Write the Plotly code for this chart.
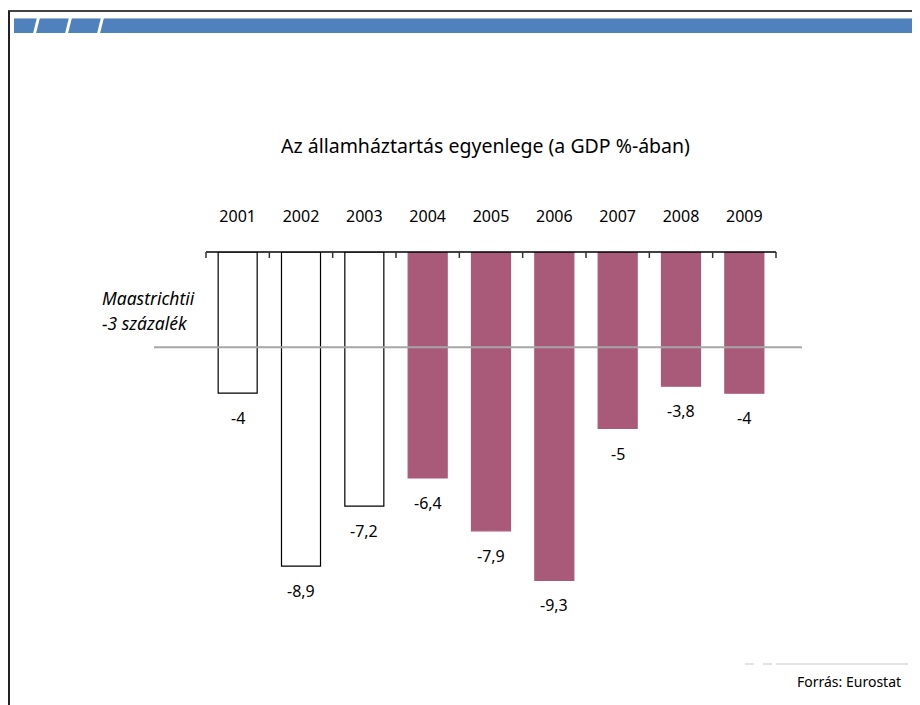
import plotly.graph_objects as go

# Adatok
years = ['2001', '2002', '2003', '2004', '2005', '2006', '2007', '2008', '2009']
balance = [-4, -8.9, -7.2, -6.4, -7.9, -9.3, -5, -3.8, -4]
hollow_years = ['2001', '2002', '2003']
maastricht_level = -2.7

title_text = 'Az államháztartás egyenlege (a GDP %-ában)'
source_text = 'Forrás: Eurostat'
maastricht_lines = ['Maastrichtii', '-3 százalék']

FONT = 'Noto Sans'
PINK = '#A85A78'

# Elrendezés (a böngésző 8 px-es body margóját levonva)
OFF = 8
W, H = 920 - OFF, 705 - OFF
PLOT_X0, PLOT_X1, PLOT_Y0, PLOT_Y1 = 206, 776, 252, 620  # oldalpixelek
L, R = PLOT_X0 - OFF, W - (PLOT_X1 - OFF)
T, B = PLOT_Y0 - OFF, H - (PLOT_Y1 - OFF)
PW, PH = PLOT_X1 - PLOT_X0, PLOT_Y1 - PLOT_Y0
PX_PER_UNIT = 35.3


def px(x):
    return (x - PLOT_X0) / PW


def py(y):
    return (PLOT_Y1 - y) / PH


def fmt(v):
    return f'{v:g}'.replace('.', ',')


fill = ['white' if y in hollow_years else PINK for y in years]
edge = ['black' if y in hollow_years else PINK for y in years]

fig = go.Figure()
fig.add_trace(go.Bar(
    x=years, y=balance,
    marker=dict(color=fill, line=dict(color=edge, width=1.2)),
    width=0.616,
    hoverinfo='x+y',
))

# Értékcímkék a rudak alatt
for i, v in enumerate(balance):
    fig.add_annotation(x=i, y=v, text=fmt(v), showarrow=False,
                       yanchor='middle', yshift=-25,
                       font=dict(family=FONT, size=16, color='black'))

shapes = []
# Nulla tengely és lefelé mutató osztásjelek a kategóriahatárokon
shapes.append(dict(type='line', xref='paper', yref='paper',
                   x0=0, x1=1, y0=1, y1=1,
                   line=dict(color='black', width=1.5)))
n = len(years)
for k in range(n + 1):
    shapes.append(dict(type='line', xref='paper', yref='paper',
                       x0=k / n, x1=k / n, y0=1, y1=py(258),
                       line=dict(color='#333333', width=1.5)))
# Maastrichti vonal
shapes.append(dict(type='line', xref='paper', yref='y',
                   x0=px(154), x1=px(802), y0=maastricht_level, y1=maastricht_level,
                   line=dict(color='#A6A6A6', width=2), layer='above'))
# Keret
shapes.append(dict(type='line', xref='paper', yref='paper',
                   x0=px(8), x1=px(921), y0=py(11), y1=py(11),
                   line=dict(color='#444444', width=2)))
shapes.append(dict(type='line', xref='paper', yref='paper',
                   x0=px(9), x1=px(9), y0=py(11), y1=py(706),
                   line=dict(color='#222222', width=2)))
# Kék sáv
shapes.append(dict(type='rect', xref='paper', yref='paper',
                   x0=px(14), x1=px(921), y0=py(33), y1=py(18),
                   fillcolor='#4F81BD', line=dict(width=0)))
shapes.append(dict(type='line', xref='paper', yref='paper',
                   x0=px(14), x1=px(921), y0=py(18.5), y1=py(18.5),
                   line=dict(color='#9DB7DA', width=1)))
for gx in [33, 65, 97]:
    path = (f'M {px(gx)},{py(33.5)} L {px(gx + 4)},{py(17.5)} '
            f'L {px(gx + 7)},{py(17.5)} L {px(gx + 3)},{py(33.5)} Z')
    shapes.append(dict(type='path', xref='paper', yref='paper', path=path,
                       fillcolor='white', line=dict(width=0)))
# Forrás feletti halvány vonal
shapes.append(dict(type='line', xref='paper', yref='paper',
                   x0=px(745), x1=px(775), y0=py(664), y1=py(664),
                   line=dict(color='#E3E3E3', width=2, dash='dash')))
shapes.append(dict(type='line', xref='paper', yref='paper',
                   x0=px(776), x1=px(908), y0=py(664), y1=py(664),
                   line=dict(color='#E3E3E3', width=2)))

fig.update_layout(
    width=W, height=H,
    margin=dict(l=L, r=R, t=T, b=B),
    paper_bgcolor='white', plot_bgcolor='white',
    showlegend=False,
    shapes=shapes,
    font=dict(family=FONT, color='black'),
)

fig.add_annotation(xref='paper', yref='paper', x=px(485), y=py(145),
                   text=title_text, showarrow=False,
                   xanchor='center', yanchor='middle',
                   font=dict(family=FONT, size=19.5, color='black'))
for line_text, ly in zip(maastricht_lines, [298, 323]):
    fig.add_annotation(xref='paper', yref='paper', x=px(100), y=py(ly),
                       text=f'<i>{line_text}</i>', showarrow=False,
                       xanchor='left', yanchor='middle', align='left',
                       font=dict(family=FONT, size=17.5, color='black'))
fig.add_annotation(xref='paper', yref='paper', x=px(903), y=py(681),
                   text=source_text, showarrow=False,
                   xanchor='right', yanchor='middle',
                   font=dict(family=FONT, size=14, color='black'))

fig.update_xaxes(
    type='category', side='top', range=[-0.5, n - 0.5],
    showline=False,
    ticks='inside', ticklen=6, tickcolor='rgba(0,0,0,0)', tickwidth=1.5,
    tickson='boundaries', ticklabelstandoff=26,
    tickfont=dict(family=FONT, size=16, color='black'),
    showgrid=False, zeroline=False,
)
fig.update_yaxes(
    range=[-PH / PX_PER_UNIT, 0],
    visible=False, showgrid=False, zeroline=False,
)

fig.write_html('out.html')
